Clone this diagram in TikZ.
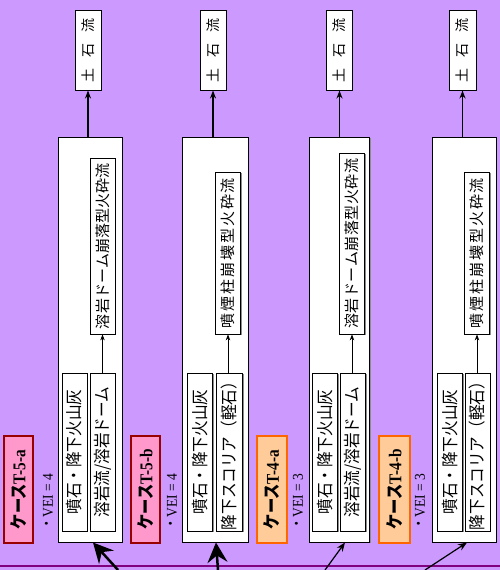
\documentclass[tikz,border=0pt]{standalone}
\usepackage{fontspec}
\setmainfont{Liberation Serif}
\newfontfamily\jp{Noto Sans CJK JP}
\usetikzlibrary{arrows.meta,shadows}
\definecolor{bgpurple}{RGB}{204,153,255}
\definecolor{lineviolet}{RGB}{128,0,128}
\definecolor{pinkfill}{RGB}{255,153,204}
\definecolor{pinkline}{RGB}{153,0,0}
\definecolor{orfill}{RGB}{255,204,153}
\definecolor{orline}{RGB}{255,102,0}
\ExplSyntaxOn
\NewDocumentCommand\spread{mm}{\makebox[#1][s]{\tl_map_inline:nn{#2}{##1\hfil}\unskip}}
\ExplSyntaxOff
\newcommand\vtxt[2]{\rotatebox{90}{\scalebox{#1}[1]{#2}}}
\tikzset{
  shd/.style={drop shadow={shadow xshift=1.2pt,shadow yshift=-1.2pt,fill=black!45,opacity=1}},
  bigbox/.style={draw=black,fill=white,line width=1pt,inner sep=0pt,shd},
  lbox/.style={draw=black,fill=white,line width=0.8pt,inner sep=0pt,shd,font=\jp\fontsize{17}{19}\selectfont},
  ubox/.style={draw=black,fill=white,line width=0.8pt,inner sep=0pt,shd,font=\jp\fontsize{15}{17}\selectfont},
  tbox/.style={draw=black,fill=white,line width=1pt,inner sep=0pt,font=\jp\fontsize{14}{16}\selectfont},
  labfive/.style={draw=pinkline,fill=pinkfill,line width=1.3pt,inner sep=0pt,font=\fontsize{18}{20}\selectfont\bfseries},
  labfour/.style={draw=orline,fill=orfill,line width=1.3pt,inner sep=0pt,font=\fontsize{18}{20}\selectfont\bfseries},
  vei/.style={inner sep=0pt,font=\fontsize{15}{17}\selectfont},
  bigarr/.style={line width=2.5pt,-{Stealth[length=20pt,width=20pt,inset=7pt]}},
  thinarr/.style={line width=1.2pt,-{Stealth[length=9pt,width=7pt]}},
  toparr/.style={line width=1.5pt,-{Stealth[length=8pt,width=6pt]}},
  midarr/.style={line width=0.8pt,-{Stealth[length=6pt,width=4.5pt]}}
}
\begin{document}
\begin{tikzpicture}[x=1pt,y=-1pt]
\fill[bgpurple] (0,0) rectangle (500,570);
\useasboundingbox (0,0) rectangle (500,570);
\draw[lineviolet,line width=1.5pt] (0,566) -- (500,566);

% ---------- column 1 : T-5-a
\node[labfive,minimum width=29,minimum height=107] (l1) at (18.5,489.5) {\vtxt{0.85}{{\jp ケース}T-5-a}};
\node[vei] (v1) at (48,502) {\vtxt{0.9}{{\jp ・}VEI = 4}};
\node[bigbox,minimum width=64,minimum height=405] (b1) at (90,339.5) {};
\node[lbox,minimum width=25,minimum height=158] (p1) at (74.5,452) {\vtxt{0.92}{噴石・降下火山灰}};
\node[lbox,minimum width=25,minimum height=158] (q1) at (102.5,452) {\vtxt{0.92}{溶岩流/溶岩ドーム}};
\node[ubox,minimum width=25,minimum height=176] (u1) at (102.5,246) {\rotatebox{90}{\spread{166pt}{溶岩ドーム崩落型火砕流}}};
\node[tbox,minimum width=26,minimum height=80] (t1) at (88,50) {\rotatebox{90}{\spread{64pt}{土石流}}};
\draw[toparr] (t1.south |- b1.north) -- (t1.south);
\draw[midarr] (u1.south |- q1.north) -- (u1.south);
\coordinate (s1) at (118,570);
\draw[bigarr] (s1) -- ([xshift=3pt]b1.south);

% ---------- column 2 : T-5-b
\node[labfive,minimum width=29,minimum height=107] (l2) at (145.5,489.5) {\vtxt{0.85}{{\jp ケース}T-5-b}};
\node[vei] (v2) at (172,502) {\vtxt{0.9}{{\jp ・}VEI = 4}};
\node[bigbox,minimum width=66,minimum height=405] (b2) at (215,339.5) {};
\node[lbox,minimum width=25,minimum height=158] (p2) at (200,452) {\vtxt{0.92}{噴石・降下火山灰}};
\node[lbox,minimum width=26,minimum height=158] (q2) at (229.5,452) {\vtxt{0.92}{降下スコリア（軽石）}};
\node[ubox,minimum width=25,minimum height=162] (u2) at (228,253) {\rotatebox{90}{\spread{150pt}{噴煙柱崩壊型火砕流}}};
\node[tbox,minimum width=26,minimum height=80] (t2) at (213,50) {\rotatebox{90}{\spread{64pt}{土石流}}};
\draw[toparr] (t2.south |- b2.north) -- (t2.south);
\draw[midarr] (u2.south |- q2.north) -- (u2.south);
\coordinate (s2) at (218,570);
\draw[bigarr] (s2) -- ([xshift=1pt]b2.south);

% ---------- column 3 : T-4-a
\node[labfour,minimum width=30,minimum height=107] (l3) at (272,489.5) {\vtxt{0.85}{{\jp ケース}T-4-a}};
\node[vei] (v3) at (298,502) {\vtxt{0.9}{{\jp ・}VEI = 3}};
\node[bigbox,minimum width=60,minimum height=405] (b3) at (339.5,339.5) {};
\node[lbox,minimum width=25,minimum height=158] (p3) at (325,452) {\vtxt{0.92}{噴石・降下火山灰}};
\node[lbox,minimum width=25,minimum height=158] (q3) at (353,452) {\vtxt{0.92}{溶岩流/溶岩ドーム}};
\node[ubox,minimum width=25,minimum height=181] (u3) at (352,243.5) {\rotatebox{90}{\spread{170pt}{溶岩ドーム崩落型火砕流}}};
\node[tbox,minimum width=26,minimum height=80] (t3) at (339.5,50) {\rotatebox{90}{\spread{64pt}{土石流}}};
\draw[toparr] (t3.south |- b3.north) -- (t3.south);
\draw[midarr] (u3.south |- q3.north) -- (u3.south);
\coordinate (s3) at (325,570);
\draw[thinarr] (s3) -- ([xshift=5.5pt]b3.south);

% ---------- column 4 : T-4-b
\node[labfour,minimum width=31,minimum height=107] (l4) at (394.5,489.5) {\vtxt{0.85}{{\jp ケース}T-4-b}};
\node[vei] (v4) at (420,502) {\vtxt{0.9}{{\jp ・}VEI = 3}};
\node[bigbox,minimum width=64,minimum height=405] (b4) at (464,339.5) {};
\node[lbox,minimum width=25,minimum height=158] (p4) at (450,452) {\vtxt{0.92}{噴石・降下火山灰}};
\node[lbox,minimum width=25,minimum height=158] (q4) at (477.5,452) {\vtxt{0.92}{降下スコリア（軽石）}};
\node[ubox,minimum width=25,minimum height=162] (u4) at (477,253) {\rotatebox{90}{\spread{150pt}{噴煙柱崩壊型火砕流}}};
\node[tbox,minimum width=27,minimum height=80] (t4) at (462.5,50) {\rotatebox{90}{\spread{64pt}{土石流}}};
\draw[toparr] (t4.south |- b4.north) -- (t4.south);
\draw[midarr] (u4.south |- q4.north) -- (u4.south);
\coordinate (s4) at (425,570);
\draw[thinarr] (s4) -- ([xshift=3pt]b4.south);
\end{tikzpicture}
\end{document}
